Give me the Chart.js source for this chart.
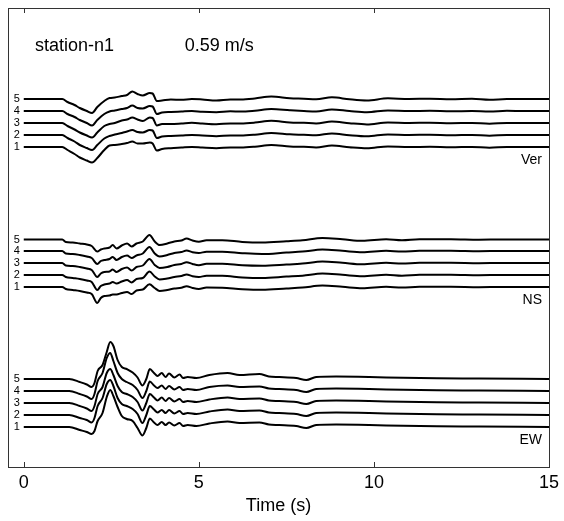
<!DOCTYPE html>
<html>
<head>
<meta charset="utf-8">
<script src="https://cdn.jsdelivr.net/npm/chart.js@4.4.1/dist/chart.umd.min.js"></script>
<style>
  html, body { margin: 0; padding: 0; background: #fff; overflow: hidden; }
  canvas { display: block; }
</style>
</head>
<body>
<canvas id="sismo" width="564" height="521"></canvas>
<script>
// tempos (s) e amplitudes (deslocamento, px de tela, positivo = para cima)
var verTime = [0, 1.1, 1.25, 1.45, 1.6, 1.8, 1.95, 2.1, 2.3, 2.45, 2.6, 2.8, 2.95, 3.1, 3.25, 3.4, 3.6, 3.68, 3.8, 3.95, 4.2, 4.5, 4.8, 5.1, 5.5, 5.9, 6.2, 6.6, 7.07, 7.6, 8.0, 8.35, 8.8, 9.3, 9.8, 10.4, 11.0, 11.6, 12.2, 12.8, 13.3, 13.8, 14.3, 15];
var ver5 = [0, 0, -3, -6, -9, -12, -14, -8, -2, 1, 1.5, 3, 4, 7.5, 5, 3.5, 6, 5.5, -2, -1.5, -0.5, -0.8, 0, -0.5, -1.5, -0.5, -0.5, 0.5, 2.5, 0.8, 0.3, -0.3, 1.7, -0.3, -1.5, 0.7, 0, 0.3, -0.3, 0.2, -0.8, 0, 0, 0];
var ver4 = [0, 0, -3, -6, -9, -12, -14.5, -9, -3, -0.5, 0.5, 2, 3, 5.5, 3, 2.5, 5, 4.5, -3, -1.5, -1, -0.5, 0, -0.8, -1.2, -0.3, -0.6, 0.3, 2, 0.8, 0, -0.5, 1.5, 0, -1.2, 0.5, 0, 0.2, -0.3, 0, -0.6, 0.2, 0, 0];
var ver3 = [0, 0, -3, -6.5, -9.5, -12.5, -14.5, -9.5, -3, -1, 0, 2.5, 3.5, 5.5, 3.5, 2, 5.5, 5, -2.5, -1, -1, -0.5, 0.2, -0.6, -1.3, -0.4, -0.4, 0.4, 2.2, 0.6, 0.2, -0.4, 1.5, -0.2, -1.4, 0.6, 0.1, 0.2, -0.2, 0.1, -0.7, 0.1, 0, 0];
var ver2 = [0, 0, -3, -6.5, -10, -13, -15, -10, -3.5, -1, 0.5, 2, 3.5, 5, 3, 2.5, 5, 4.5, -3, -1.5, -1, -0.6, 0, -0.5, -1.2, -0.5, -0.5, 0.3, 2, 0.7, 0.2, -0.3, 1.6, -0.2, -1.3, 0.6, 0, 0.3, -0.3, 0.1, -0.7, 0, 0, 0];
var ver1 = [0, 0, -3, -7, -10.5, -13.5, -15.5, -11, -3, 1.5, 2, 3, 4, 5.5, 3.5, 3.5, 4.5, 3.5, -3.5, -2, -1.2, -0.6, 0, -0.6, -1.2, -0.4, -0.5, 0.3, 2, 0.6, 0.2, -0.4, 1.5, -0.2, -1.3, 0.6, 0, 0.2, -0.3, 0.1, -0.7, 0, 0, 0];

var nsTime = [0, 1.1, 1.2, 1.4, 1.6, 1.8, 1.94, 2.1, 2.2, 2.3, 2.45, 2.54, 2.65, 2.8, 2.95, 3.08, 3.22, 3.4, 3.59, 3.74, 3.88, 4.1, 4.3, 4.5, 4.65, 4.82, 5.0, 5.22, 5.67, 6.24, 6.81, 7.5, 7.96, 8.53, 9.1, 9.67, 10.35, 10.8, 11.3, 12.2, 13.0, 13.66, 14.3, 15];
var ns5 = [0, 0, -2.5, -3, -4, -5, -6.5, -12, -10, -9, -8, -5.5, -9, -6, -4, -7, -4, -2, 4.5, -2, -5.5, -4, -2, -1, 1, -1, -2.2, -0.7, -0.7, -2.4, -3, -1.7, -0.7, 1.6, 0.3, -1.3, 0.3, -0.7, 0.3, 0.3, -0.2, 0, 0, 0];
var ns4 = [0, 0, -2.5, -3, -4, -5.5, -7, -13, -10, -9, -8, -6, -9, -6, -4.5, -7, -4.5, -2.5, 4, -2.5, -5.5, -4, -2, -1, 0.5, -1.2, -2, -0.8, -0.8, -2.2, -3, -1.5, -0.6, 1.5, 0.2, -1.2, 0.3, -0.6, 0.2, 0.3, -0.2, 0, 0, 0];
var ns3 = [0, 0, -2.5, -3, -4, -5.5, -7, -14, -10.5, -9, -8.5, -6.5, -9, -6, -4.5, -7.5, -4, -2.5, 4, -2, -5, -4, -2, -1, 0.8, -1, -2.2, -0.7, -0.7, -2.3, -2.8, -1.6, -0.6, 1.5, 0.2, -1.3, 0.3, -0.6, 0.2, 0.2, -0.2, 0, 0, 0];
var ns2 = [0, 0, -2, -3, -4, -5.5, -7, -15, -11, -9.5, -8.5, -7, -8.5, -6.5, -5, -7.5, -4, -3, 3.5, -1.5, -4.5, -3.5, -2, -1, 0.6, -1.2, -2, -0.8, -0.8, -2.4, -3, -1.6, -0.7, 1.4, 0.2, -1.2, 0.3, -0.7, 0.2, 0.3, -0.2, 0, 0, 0];
var ns1 = [0, 0, -2, -3, -4, -5.5, -7, -16, -11, -9, -8.5, -7.5, -7.5, -6, -5, -7, -3.5, -2.5, 2.7, -1, -4, -3, -1.5, -0.8, 0.8, -1, -2, -0.6, -0.8, -2.2, -2.8, -1.5, -0.6, 1.4, 0.2, -1.2, 0.3, -0.6, 0.2, 0.2, -0.2, 0, 0, 0];

var ewTime = [0, 1.3, 1.6, 1.8, 1.94, 2.02, 2.11, 2.25, 2.37, 2.47, 2.56, 2.68, 2.8, 2.94, 3.11, 3.25, 3.39, 3.5, 3.6, 3.72, 3.82, 3.94, 4.05, 4.15, 4.3, 4.45, 4.55, 4.68, 4.93, 5.3, 5.82, 6.16, 6.73, 7.0, 7.3, 7.78, 8.07, 8.35, 8.92, 9.87, 10.35, 11.8, 13.0, 15];
var ew5 = [0, 0, -3, -5.5, -8, -4, 8, 14, 27, 37, 33, 19, 12, 10, 6.5, 1.5, -6.5, 0, 10, 6, 3, 6, 2, 5.5, 1.5, 4.5, 1, 2, 1, 4, 6, 4, 5, 2.5, 2, 1, -1, 2, 2.5, 2, 1.5, 0.7, 0.5, 0];
var ew4 = [0, 0, -3, -5.5, -8, -3, 10, 18, 33, 38, 30, 18, 12, 9, 6, 1, -7, 0, 9.5, 5.5, 3, 5.5, 2, 5, 1.5, 4, 1, 2, 1, 4, 5.5, 4, 4.5, 2.5, 2, 1, -1, 2, 2.5, 2, 1.5, 0.7, 0.5, 0];
var ew3 = [0, 0, -3, -5.5, -8, -3, 9, 16, 30, 34, 28, 17, 11, 9, 6, 1, -7.5, 0, 9, 5.5, 2.5, 5.5, 2, 5, 1.5, 4, 1, 2, 1, 3.5, 5.5, 4, 4.5, 2.5, 2, 1, -1, 2, 2.5, 2, 1.5, 0.7, 0.5, 0];
var ew2 = [0, 0, -3, -5, -7.5, -3, 9, 17, 31, 35, 29, 17, 11, 9, 6, 1, -8, 0, 9, 5.5, 2.5, 5, 2, 5, 1.5, 4, 1, 2, 1, 3.5, 5.5, 4, 4.5, 2.5, 2, 1, -1, 2, 2.5, 2, 1.5, 0.7, 0.5, 0];
var ew1 = [0, 0, -3, -5, -7, -4, 6, 14, 30, 37, 31, 20, 11, 8, 6, -1, -8.5, -1, 8.5, 4.5, 2, 5, 2, 4.5, 1.5, 4, 1, 2, 1, 3.5, 5.5, 4, 4.5, 2.5, 2, 1, -1, 2, 2.5, 2, 1.5, 0.7, 0.5, 0];

// linhas de base de cada traco (1..5), eixo y invertido
var traceLabels = ["1", "2", "3", "4", "5"];
var verOffsets = [147, 135, 123, 111, 99];
var nsOffsets = [287, 275, 263, 251, 239.5];
var ewOffsets = [427, 415, 403, 391, 379];
var xTicks = [0, 5, 10, 15];

var fonte = '"Liberation Sans", Arial, Helvetica, sans-serif';

function traco(time, dev, base) {
  return time.map(function (t, i) { return { x: t, y: base - dev[i] }; });
}

var grupos = [
  { time: verTime, traces: [ver1, ver2, ver3, ver4, ver5], offsets: verOffsets, nome: "Ver", yNome: 164 },
  { time: nsTime, traces: [ns1, ns2, ns3, ns4, ns5], offsets: nsOffsets, nome: "NS", yNome: 304 },
  { time: ewTime, traces: [ew1, ew2, ew3, ew4, ew5], offsets: ewOffsets, nome: "EW", yNome: 444 }
];

var datasets = [];
grupos.forEach(function (g) {
  g.traces.forEach(function (dev, k) {
    datasets.push({
      label: g.nome + " " + traceLabels[k],
      data: traco(g.time, dev, g.offsets[k]),
      borderColor: "#000",
      borderWidth: 2,
      pointRadius: 0,
      fill: false,
      cubicInterpolationMode: "monotone"
    });
  });
});

// moldura, marcas e textos
var extras = {
  id: "extras",
  afterDraw: function (chart) {
    var ctx = chart.ctx;
    var a = chart.chartArea;
    var xs = chart.scales.x;
    var ys = chart.scales.y;
    ctx.save();
    ctx.strokeStyle = "#333";
    ctx.lineWidth = 1;
    ctx.strokeRect(Math.round(a.left) + 0.5, Math.round(a.top) + 0.5,
      Math.round(a.right - a.left), Math.round(a.bottom - a.top));
    ctx.beginPath();
    xTicks.forEach(function (v) {
      var px = Math.round(xs.getPixelForValue(v)) + 0.5;
      ctx.moveTo(px, a.bottom);
      ctx.lineTo(px, a.bottom - 5);
      ctx.moveTo(px, a.top);
      ctx.lineTo(px, a.top + 5);
    });
    ctx.stroke();

    ctx.fillStyle = "#000";
    ctx.textBaseline = "alphabetic";
    ctx.textAlign = "left";
    ctx.font = "18px " + fonte;
    ctx.fillText("station-n1", xs.getPixelForValue(0.32), ys.getPixelForValue(51));
    ctx.fillText("0.59 m/s", xs.getPixelForValue(4.6), ys.getPixelForValue(51));

    ctx.font = "11px " + fonte;
    ctx.textAlign = "right";
    ctx.textBaseline = "middle";
    grupos.forEach(function (g) {
      g.offsets.forEach(function (off, k) {
        ctx.fillText(traceLabels[k], xs.getPixelForValue(0) - 4, ys.getPixelForValue(off));
      });
    });

    ctx.font = "14px " + fonte;
    ctx.textBaseline = "alphabetic";
    grupos.forEach(function (g) {
      ctx.fillText(g.nome, xs.getPixelForValue(14.8), ys.getPixelForValue(g.yNome));
    });
    ctx.restore();
  }
};

new Chart(document.getElementById("sismo"), {
  type: "line",
  data: { datasets: datasets },
  options: {
    responsive: false,
    animation: false,
    devicePixelRatio: 1,
    layout: { padding: { left: 8, right: 13, top: 8, bottom: 0 } },
    plugins: { legend: { display: false }, tooltip: { enabled: false } },
    scales: {
      x: {
        type: "linear",
        min: -0.45,
        max: 15,
        afterBuildTicks: function (s) { s.ticks = xTicks.map(function (v) { return { value: v }; }); },
        afterFit: function (s) { s.height = 54; },
        grid: { display: false, drawTicks: false },
        border: { display: false },
        ticks: { color: "#000", font: { family: fonte, size: 18 }, padding: 5, maxRotation: 0 },
        title: { display: true, text: "Time (s)", color: "#000", font: { family: fonte, size: 18 }, padding: { top: 0, bottom: 4 } }
      },
      y: {
        type: "linear",
        display: false,
        reverse: true,
        min: 8,
        max: 467
      }
    }
  },
  plugins: [extras]
});
</script>
</body>
</html>
